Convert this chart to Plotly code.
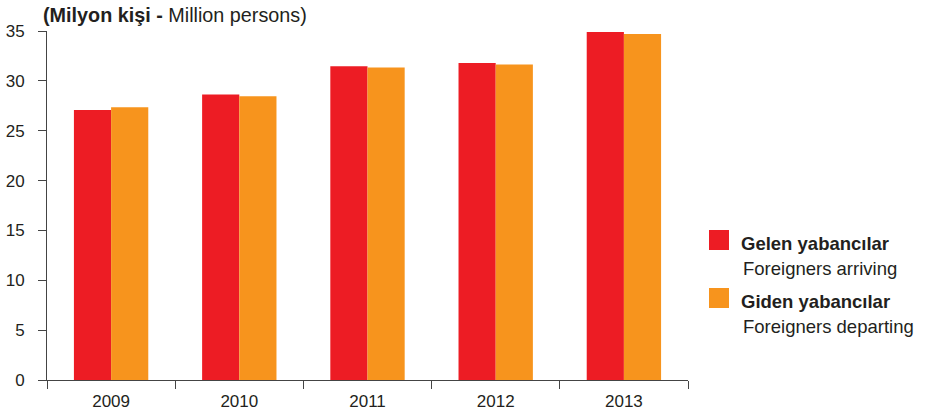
import plotly.graph_objects as go

years = ["2009", "2010", "2011", "2012", "2013"]
arriving = [27.08, 28.63, 31.46, 31.78, 34.91]
departing = [27.35, 28.45, 31.35, 31.65, 34.70]

series_names = ["Gelen yabancılar", "Giden yabancılar"]
series_sub = ["Foreigners arriving", "Foreigners departing"]
colors = ["#ED1C24", "#F7941D"]

FONT = "Liberation Sans, Arial, sans-serif"

L, R, T, B = 47, 688, 31, 380
W, H = 925, 411

fig = go.Figure()
fig.add_trace(go.Bar(x=years, y=arriving, name=series_names[0], marker_color=colors[0],
                     marker_line_width=0, showlegend=False))
fig.add_trace(go.Bar(x=years, y=departing, name=series_names[1], marker_color=colors[1],
                     marker_line_width=0, showlegend=False))

fig.update_layout(
    width=W, height=H,
    margin=dict(l=L, r=W - R, t=T, b=H - B, autoexpand=False),
    paper_bgcolor="white", plot_bgcolor="white",
    barmode="group", bargap=0.42, bargroupgap=0,
    font=dict(family=FONT, color="#231F20"),
    xaxis=dict(
        type="category", showline=True, linecolor="#444", linewidth=1,
        ticks="outside", tickson="boundaries", ticklen=8, tickcolor="#444",
        tickfont=dict(size=17, color="#231F20"), showgrid=False, automargin=False,
        ticklabelstandoff=6,
    ),
    yaxis=dict(
        range=[0, 35], dtick=5, showline=True, linecolor="#444", linewidth=1,
        ticks="outside", ticklen=8, tickcolor="#444",
        tickfont=dict(size=17, color="#231F20"), showgrid=False, zeroline=False,
        automargin=False, ticklabelstandoff=10,
    ),
)


def px(xp):
    return (xp - L) / (R - L)


def py(yp):
    return (B - yp) / (B - T)


# title
fig.add_annotation(xref="paper", yref="paper", x=px(41), y=py(15),
                   xanchor="left", yanchor="middle", showarrow=False,
                   text="<b>(Milyon kişi - </b>Million persons)",
                   font=dict(size=19.8, family=FONT, color="#231F20"))

# custom legend
leg_y = [240, 298]
for i in range(2):
    cy = leg_y[i]
    fig.add_shape(type="rect", xref="paper", yref="paper",
                  x0=px(709), x1=px(729), y0=py(cy + 10), y1=py(cy - 10),
                  fillcolor=colors[i], line_width=0)
    fig.add_annotation(xref="paper", yref="paper", x=px(739), y=py(cy + 3),
                       xanchor="left", yanchor="middle", showarrow=False,
                       text="<b>" + series_names[i] + "</b>",
                       font=dict(size=18.5, family=FONT, color="#231F20"))
    fig.add_annotation(xref="paper", yref="paper", x=px(741), y=py(cy + 28),
                       xanchor="left", yanchor="middle", showarrow=False,
                       text=series_sub[i],
                       font=dict(size=18.5, family=FONT, color="#231F20"))

fig.write_html("out.html", config={"displayModeBar": False},
               post_script="document.body.style.margin='0';")
